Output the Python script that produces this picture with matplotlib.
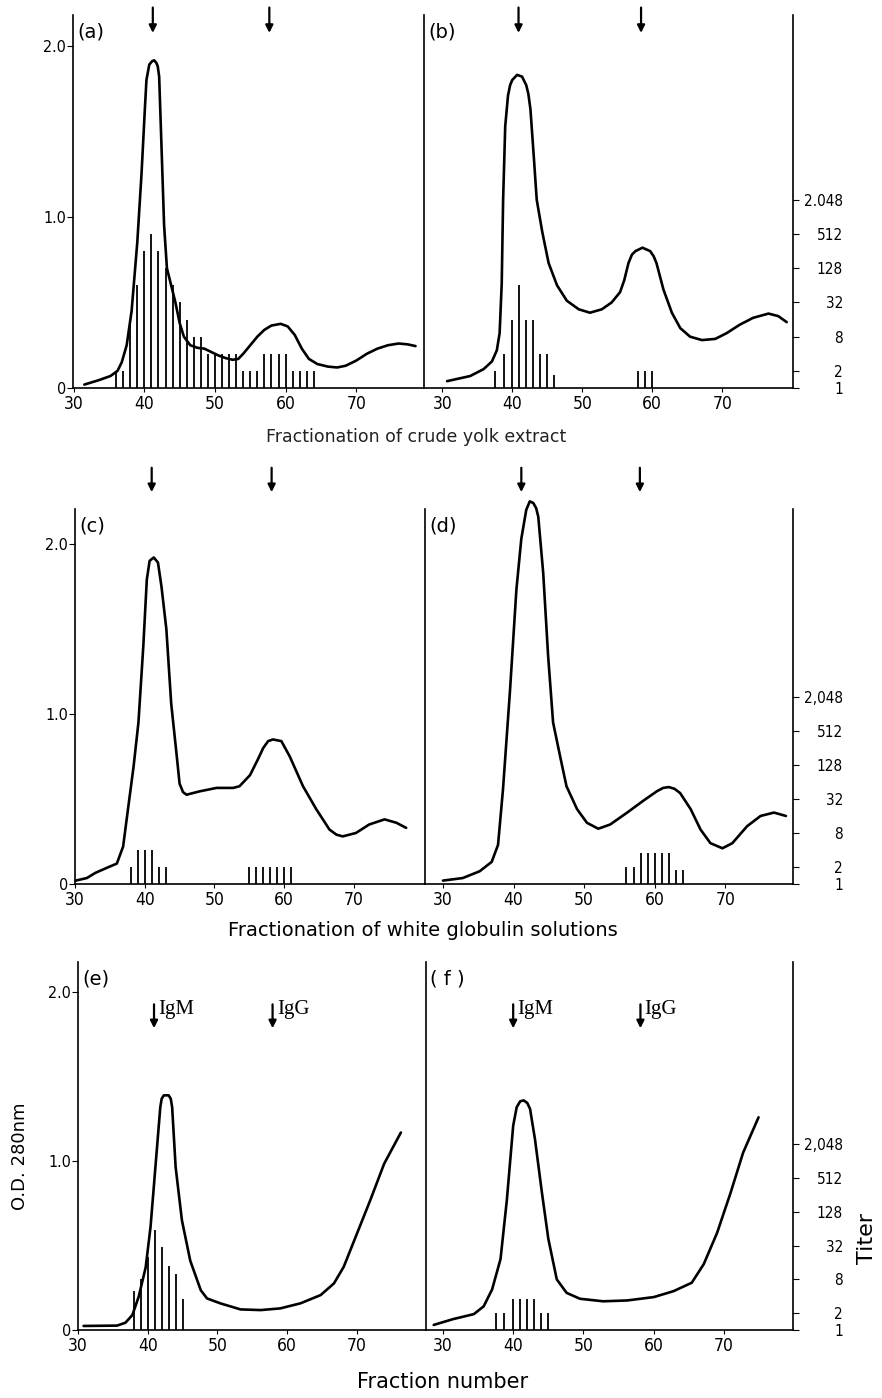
import matplotlib
matplotlib.use('Agg')
import matplotlib.pyplot as plt
from matplotlib import font_manager
from matplotlib.ticker import FixedLocator, NullLocator

# ---- data ----
# O.D. 280nm curves (fraction number, absorbance)
a_x = [31.5, 33.5, 35.2, 36.2, 36.8, 37.5, 38.2, 39.0, 39.6, 40.1, 40.3, 40.7, 41.1, 41.4,
       41.7, 41.9, 42.1, 42.4, 42.8, 43.2, 43.8, 44.4, 45.0, 45.6, 46.5, 47.5, 48.5, 49.5,
       50.5, 51.5, 52.5, 53.3, 54.0, 55.0, 56.0, 57.0, 58.0, 59.3, 60.3, 61.3, 62.3, 63.3,
       64.5, 66.0, 67.3, 68.5, 70.0, 71.5, 73.0, 74.5, 76.0, 77.3, 78.4]
a_od = [0.02, 0.045, 0.07, 0.10, 0.15, 0.25, 0.45, 0.85, 1.25, 1.65, 1.80, 1.89, 1.91, 1.915,
        1.90, 1.88, 1.82, 1.45, 0.95, 0.70, 0.60, 0.50, 0.38, 0.30, 0.25, 0.235, 0.23, 0.21,
        0.19, 0.175, 0.165, 0.17, 0.20, 0.25, 0.30, 0.34, 0.365, 0.375, 0.36, 0.31, 0.23, 0.17,
        0.14, 0.125, 0.12, 0.13, 0.16, 0.20, 0.23, 0.25, 0.26, 0.255, 0.245]

b_x = [30.7, 34.0, 35.9, 37.1, 37.8, 38.2, 38.5, 38.7, 39.0, 39.4, 39.7, 40.0, 40.7, 41.4,
       42.0, 42.3, 42.6, 43.1, 43.5, 44.3, 45.2, 46.4, 47.8, 49.5, 51.1, 52.8, 54.2, 55.4,
       56.0, 56.6, 57.1, 57.6, 58.6, 59.7, 60.2, 60.6, 61.6, 62.8, 64.0, 65.4, 67.1, 69.0,
       70.6, 72.5, 74.4, 76.6, 78.0, 79.2]
b_od = [0.04, 0.07, 0.11, 0.155, 0.22, 0.32, 0.61, 1.10, 1.53, 1.71, 1.77, 1.80, 1.83, 1.82,
        1.77, 1.72, 1.63, 1.34, 1.10, 0.91, 0.73, 0.60, 0.51, 0.46, 0.44, 0.46, 0.50, 0.56,
        0.63, 0.73, 0.78, 0.80, 0.82, 0.80, 0.77, 0.73, 0.575, 0.44, 0.35, 0.30, 0.28, 0.287,
        0.32, 0.37, 0.41, 0.435, 0.42, 0.385]

c_x = [30.1, 31.7, 32.9, 34.5, 36.0, 36.9, 37.6, 38.4, 39.1, 39.8, 40.3, 40.7, 41.3, 41.9,
       42.4, 43.1, 43.8, 44.6, 45.0, 45.5, 46.0, 47.9, 50.3, 52.7, 53.6, 55.1, 56.2, 57.0,
       57.7, 58.4, 59.6, 60.8, 62.7, 64.6, 66.5, 67.5, 68.4, 70.3, 72.2, 74.4, 76.1, 77.5]
c_od = [0.02, 0.035, 0.065, 0.094, 0.12, 0.22, 0.44, 0.69, 0.95, 1.40, 1.79, 1.90, 1.92, 1.89,
        1.75, 1.50, 1.06, 0.75, 0.59, 0.54, 0.525, 0.545, 0.565, 0.565, 0.575, 0.64, 0.73, 0.80,
        0.84, 0.85, 0.84, 0.75, 0.575, 0.44, 0.32, 0.29, 0.28, 0.30, 0.35, 0.38, 0.36, 0.33]

d_x = [30.0, 32.8, 35.2, 36.9, 37.8, 38.5, 39.5, 40.4, 41.1, 41.8, 42.3, 42.8, 43.2, 43.5,
       44.2, 44.9, 45.6, 46.6, 47.5, 49.0, 50.4, 52.0, 53.7, 56.1, 58.4, 60.3, 61.2, 62.0,
       62.8, 63.6, 65.1, 66.5, 67.9, 69.6, 71.0, 73.1, 75.0, 76.9, 78.6]
d_od = [0.02, 0.035, 0.075, 0.13, 0.23, 0.555, 1.14, 1.73, 2.03, 2.20, 2.25, 2.24, 2.21, 2.16,
        1.83, 1.34, 0.95, 0.75, 0.575, 0.44, 0.36, 0.325, 0.35, 0.42, 0.49, 0.545, 0.565, 0.57,
        0.56, 0.535, 0.44, 0.32, 0.24, 0.21, 0.24, 0.34, 0.40, 0.42, 0.40]

e_x = [30.8, 35.6, 36.8, 37.8, 38.7, 39.7, 40.4, 41.1, 41.8, 42.0, 42.3, 43.0, 43.3, 43.5,
       44.0, 44.9, 46.1, 47.6, 48.5, 50.4, 53.3, 56.2, 59.0, 61.9, 64.8, 66.7, 68.1, 70.0,
       71.9, 73.9, 76.3]
e_od = [0.024, 0.026, 0.043, 0.089, 0.197, 0.37, 0.61, 0.965, 1.32, 1.37, 1.39, 1.39, 1.37,
        1.32, 0.965, 0.65, 0.41, 0.236, 0.187, 0.158, 0.122, 0.118, 0.128, 0.158, 0.207, 0.276,
        0.374, 0.571, 0.768, 0.985, 1.17]

f_x = [28.7, 31.5, 34.4, 35.8, 37.0, 38.2, 39.1, 40.0, 40.5, 41.0, 41.5, 42.0, 42.4, 43.1,
       44.1, 45.0, 46.2, 47.6, 49.5, 52.8, 56.2, 60.0, 62.8, 65.4, 67.1, 69.0, 70.9, 72.7, 74.9]
f_od = [0.03, 0.065, 0.094, 0.14, 0.24, 0.42, 0.77, 1.21, 1.32, 1.355, 1.36, 1.345, 1.31, 1.13,
        0.81, 0.54, 0.30, 0.22, 0.185, 0.17, 0.175, 0.195, 0.23, 0.28, 0.39, 0.575, 0.81, 1.05,
        1.26]

# titer bars (fraction number, titer)
a_frac = list(range(36, 65))
a_titer = [2, 2, 16, 64, 256, 512, 256, 128, 64, 32, 16, 8, 8, 4, 4, 4, 4, 4, 2, 2, 2,
           4, 4, 4, 4, 2, 2, 2, 2]
b_frac = [37.5, 38.8, 40, 41, 42, 43, 44, 45, 46, 58, 59, 60]
b_titer = [2, 4, 16, 64, 16, 16, 4, 4, 1.7, 2, 2, 2]
c_frac = [38, 39, 40, 41, 42, 43, 55, 56, 57, 58, 59, 60, 61]
c_titer = [2, 4, 4, 4, 2, 2, 2, 2, 2, 2, 2, 2, 2]
d_frac = [56, 57, 58, 59, 60, 61, 62, 63, 64]
d_titer = [2, 2, 3.6, 3.6, 3.6, 3.6, 3.6, 1.8, 1.8]
e_frac = [38, 39, 40, 41, 42, 43, 44, 45]
e_titer = [5, 8, 20, 60, 30, 14, 10, 3.5]
f_frac = [37.6, 38.7, 40, 41, 42, 43, 44, 45]
f_titer = [2, 2, 3.6, 3.6, 3.6, 3.6, 2, 2]

# marker arrows (fraction number)
a_arrows = [41.2, 57.7]
b_arrows = [40.9, 58.4]
c_arrows = [41.0, 58.2]
d_arrows = [41.1, 57.9]
e_arrows = [40.9, 57.9]
f_arrows = [40.0, 58.1]

od_ticks = [0, 1, 2]
od_labels = ['0', '1.0', '2.0']
titer_ticks = [1, 2, 8, 32, 128, 512, 2048]
titer_labels_b = ['1', '2', '8', '32', '128', '512', '2.048']
titer_labels = ['1', '2', '8', '32', '128', '512', '2,048']
x_ticks = [30, 40, 50, 60, 70]

# ---- fonts ----
_fonts = font_manager.fontManager.ttflist
_names = {f.name for f in _fonts}
if 'Liberation Sans Narrow' in _names:
    TICK = dict(family='Liberation Sans Narrow')
    xt_fs, yt_fs, tt_fs = 14, 13, 12
elif any(f.name == 'DejaVu Sans' and f.stretch == 'condensed' for f in _fonts):
    TICK = dict(family='DejaVu Sans', fontstretch='condensed')
    xt_fs, yt_fs, tt_fs = 12.5, 11.5, 11
else:
    TICK = dict(family='DejaVu Sans')
    xt_fs, yt_fs, tt_fs = 11.5, 11, 10.5
SERIF = 'Liberation Serif' if 'Liberation Serif' in _names else 'DejaVu Serif'

W, H = 882, 1398
fig = plt.figure(figsize=(W / 100, H / 100), dpi=100)
fig.patch.set_facecolor('white')


def add_px(l, t, r, b):
    return fig.add_axes([l / W, 1 - b / H, (r - l) / W, (b - t) / H])


def panel(box, xlim, ymax, xs, ys, bx, bt, label, right, tlabels=None):
    ax = add_px(*box)
    ax.set_xlim(*xlim)
    ax.set_ylim(0, ymax)
    ax.plot(xs, ys, color='k', lw=1.9, clip_on=False, solid_capstyle='round',
            solid_joinstyle='round')
    ax2 = ax.twinx()
    ax2.set_yscale('log', base=2)
    ax2.set_ylim(1, 2 ** (10 * ymax))
    ax2.vlines(bx, 1, bt, color='k', lw=1.3)
    for a in (ax, ax2):
        a.spines['top'].set_visible(False)
        for s in a.spines.values():
            s.set_linewidth(1.2)
    ax.spines['right'].set_visible(False)
    ax2.spines['left'].set_visible(False)
    ax2.spines['bottom'].set_visible(False)
    ax.set_xticks(x_ticks)
    ax.set_xticklabels([str(t) for t in x_ticks], fontsize=xt_fs, **TICK)
    ax.tick_params(axis='x', direction='out', length=3, width=0.8, pad=2)
    ax2.yaxis.set_minor_locator(NullLocator())
    if right:
        ax.set_yticks([])
        ax2.yaxis.set_major_locator(FixedLocator(titer_ticks))
        ax2.set_yticklabels(tlabels, fontsize=tt_fs, **TICK)
        for t in ax2.get_yticklabels():
            t.set_horizontalalignment('right')
        ax2.tick_params(axis='y', direction='out', length=4, width=0.8, pad=32)
    else:
        ax2.spines['right'].set_visible(False)
        ax2.set_yticks([])
        ax.set_yticks(od_ticks)
        ax.set_yticklabels(od_labels, fontsize=yt_fs, **TICK)
        ax.tick_params(axis='y', direction='out', length=4, width=0.8, pad=1)
    ax.text(0.012, 0.955, label, transform=ax.transAxes, fontsize=14,
            va='center', ha='left')
    return ax


def arrows(ax, xs, y_tip, y_tail, names=None):
    for i, x in enumerate(xs):
        ax.annotate('', xy=(x, y_tip), xytext=(x, y_tail),
                    xycoords=('data', 'axes fraction'), annotation_clip=False,
                    arrowprops=dict(arrowstyle='-|>', color='k', lw=1.6,
                                    mutation_scale=11, shrinkA=0, shrinkB=0))
        if names:
            ax.text(x + 0.6, 0.872, names[i], transform=ax.get_xaxis_transform(),
                    fontsize=15, family=SERIF, va='center', ha='left')


# row 1 : crude yolk extract
ax_a = panel((73, 15, 424, 388), (29.9, 79.6), 2.18, a_x, a_od, a_frac, a_titer, '(a)', False)
ax_b = panel((424, 15, 793, 388), (27.4, 80.1), 2.18, b_x, b_od, b_frac, b_titer, '(b)', True,
             titer_labels_b)
arrows(ax_a, a_arrows, 0.952, 1.02)
arrows(ax_b, b_arrows, 0.952, 1.02)

# row 2 : white globulin solutions
ax_c = panel((75, 509, 425, 884), (30, 80.2), 2.205, c_x, c_od, c_frac, c_titer, '(c)', False)
ax_d = panel((425, 509, 793, 884), (27.45, 79.6), 2.205, d_x, d_od, d_frac, d_titer, '(d)', True,
             titer_labels)
arrows(ax_c, c_arrows, 1.045, 1.11)
arrows(ax_d, d_arrows, 1.045, 1.11)

# row 3
ax_e = panel((78, 962, 426, 1330), (30, 79.9), 2.18, e_x, e_od, e_frac, e_titer, '(e)', False)
ax_f = panel((426, 962, 793, 1330), (27.6, 79.8), 2.18, f_x, f_od, f_frac, f_titer, '( f )', True,
             titer_labels)
arrows(ax_e, e_arrows, 0.82, 0.885, ['IgM', 'IgG'])
arrows(ax_f, f_arrows, 0.82, 0.885, ['IgM', 'IgG'])

fig.text(416 / W, 1 - 437 / H, 'Fractionation of crude yolk extract', ha='center', va='center',
         fontsize=12.5, color='#222222')
fig.text(423 / W, 1 - 930 / H, 'Fractionation of white globulin solutions', ha='center',
         va='center', fontsize=14)
fig.text(443 / W, 1 - 1382 / H, 'Fraction number', ha='center', va='center', fontsize=15)
fig.text(20 / W, 1 - 1156 / H, 'O.D. 280nm', rotation=90, ha='center', va='center', fontsize=13)
fig.text(867 / W, 1 - 1238 / H, 'Titer', rotation=90, ha='center', va='center', fontsize=16)

fig.savefig('out.png', dpi=100, facecolor='white')
